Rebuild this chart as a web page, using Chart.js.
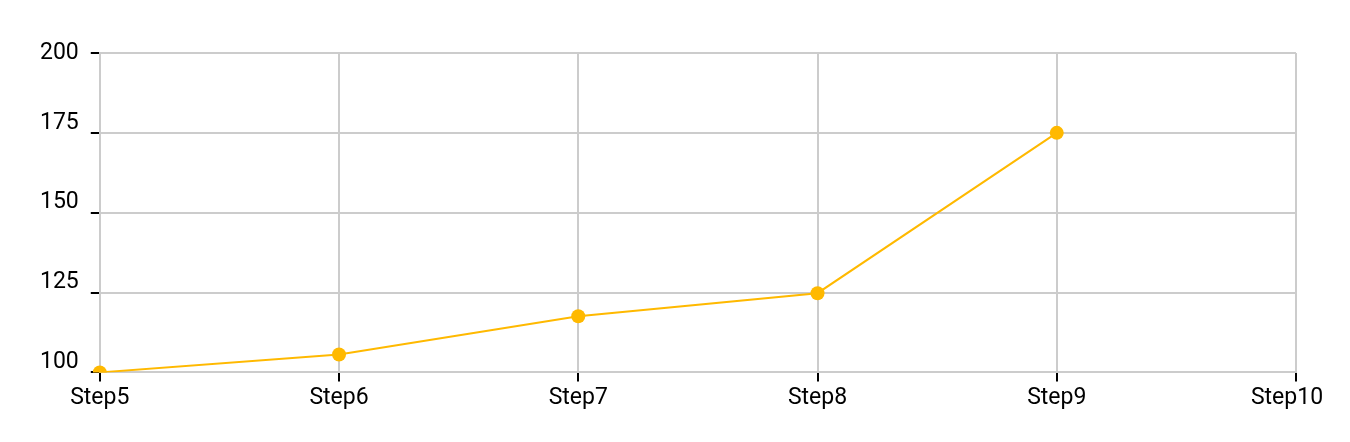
<!DOCTYPE html>
<html>
<head>
<meta charset="utf-8">
<script src="https://cdn.jsdelivr.net/npm/chart.js@4"></script>
<style>
  html, body { margin: 0; padding: 0; background: #fff; }
  #wrap { width: 1350px; height: 442px; }
</style>
</head>
<body>
<div id="wrap"><canvas id="myCanvas"></canvas></div>
<script>
const stepLabels = ['Step5', 'Step6', 'Step7', 'Step8', 'Step9', 'Step10'];
const stepValues = [100, 105.6, 117.6, 124.8, 175, null];
const yTicks = [100, 125, 150, 175, 200];

const lineColor = '#FFB900';
const gridColor = '#cccccc';

// y labels sit just above their grid line (except the top one),
// and the last x label is pulled a little inside
const labelNudge = {
    id: 'labelNudge',
    afterUpdate(chart) {
        const top = String(yTicks[yTicks.length - 1]);
        chart.scales.y.getLabelItems().forEach(item => {
            if (item.label !== top) item.options.translation[1] -= 10;
        });
        const xs = chart.scales.x.getLabelItems();
        if (xs.length) xs[xs.length - 1].options.translation[0] -= 9;
    }
};

var ctx = document.getElementById('myCanvas').getContext('2d');
var myChart = new Chart(ctx, {
    type: 'line',
    data: {
        labels: stepLabels,
        datasets: [{
            data: stepValues,
            borderColor: lineColor,
            backgroundColor: lineColor,
            borderWidth: 2,
            pointRadius: 7,
            pointBorderWidth: 0,
            tension: 0,
            spanGaps: false
        }]
    },
    plugins: [labelNudge],
    options: {
        responsive: true,
        maintainAspectRatio: false,
        animation: false,
        layout: { padding: { top: 53, left: 28, right: 54, bottom: 27 } },
        plugins: { legend: { display: false }, tooltip: { enabled: false } },
        scales: {
            x: {
                offset: false,
                grid: { color: gridColor, lineWidth: 2, tickColor: '#000', tickLength: 9 },
                border: { color: gridColor, width: 2 },
                ticks: { color: '#000', font: { family: 'Roboto', size: 23 }, padding: 3, maxRotation: 0 }
            },
            y: {
                min: yTicks[0],
                max: yTicks[yTicks.length - 1],
                afterBuildTicks: function (axis) { axis.ticks = yTicks.map(v => ({ value: v })); },
                grid: { color: gridColor, lineWidth: 2, tickColor: '#000', tickLength: 9 },
                border: { color: gridColor, width: 2 },
                ticks: { color: '#000', font: { family: 'Roboto', size: 23 }, padding: 12 }
            }
        }
    }
});
</script>
</body>
</html>
